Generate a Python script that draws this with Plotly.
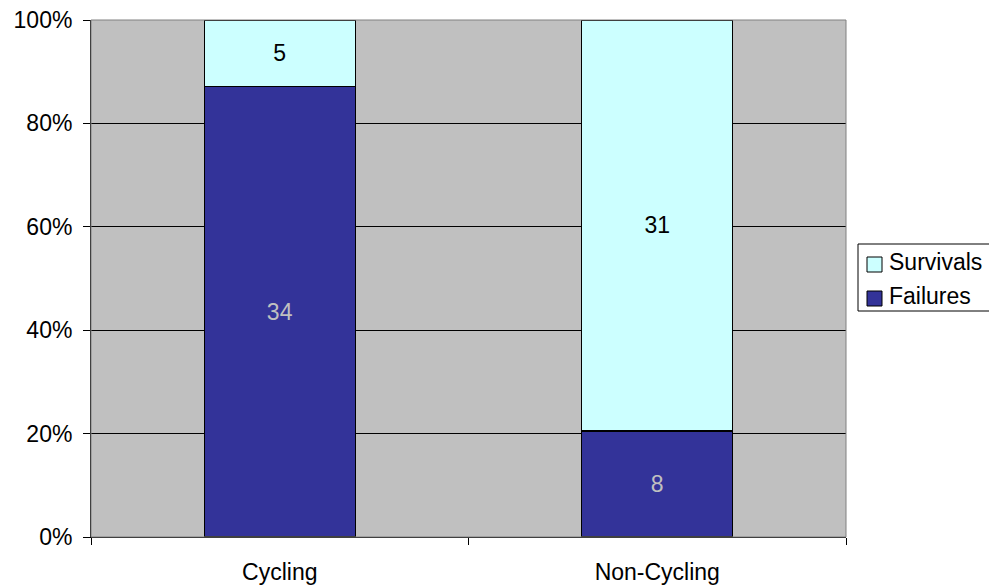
import plotly.graph_objects as go

categories = ["Cycling", "Non-Cycling"]
failures = [34, 8]
survivals = [5, 31]
series_names = ["Survivals", "Failures"]
series_colors = ["#ccffff", "#333399"]

FONT = "Liberation Sans, Arial, sans-serif"
FS = 23

fig = go.Figure()
fig.add_trace(go.Bar(
    name="Failures", x=categories, y=failures,
    text=[str(v) for v in failures], textposition="inside", insidetextanchor="middle",
    textfont=dict(color="#c0c0c0", size=FS, family=FONT),
    marker=dict(color="#333399", line=dict(color="#000000", width=1.2)),
    width=0.4, hoverinfo="skip",
))
fig.add_trace(go.Bar(
    name="Survivals", x=categories, y=survivals,
    text=[str(v) for v in survivals], textposition="inside", insidetextanchor="middle",
    textfont=dict(color="#000000", size=FS, family=FONT),
    marker=dict(color="#ccffff", line=dict(color="#000000", width=1.2)),
    width=0.4, hoverinfo="skip",
))

L, R, T, B = 91, 143, 20, 51
W, H = 989, 588
PW, PH = W - L - R, H - T - B

def px(x):
    return (x - L) / PW

def py(y):
    return (H - B - y) / PH

fig.update_layout(
    barmode="stack", barnorm="percent",
    width=W, height=H,
    margin=dict(l=L, r=R, t=T, b=B, autoexpand=False),
    paper_bgcolor="#ffffff", plot_bgcolor="#c0c0c0",
    font=dict(family=FONT, size=FS, color="#000000"),
    showlegend=False,
    uniformtext=dict(mode=False),
)
fig.update_yaxes(
    range=[0, 100], dtick=20, ticksuffix="%",
    showgrid=True, gridcolor="#000000", gridwidth=1,
    ticks="outside", ticklen=7, tickcolor="#000000",
    showline=True, linecolor="#000000", linewidth=1,
    zeroline=False, fixedrange=True, ticklabelstandoff=6,
)
fig.update_xaxes(
    tickson="boundaries", ticks="outside", ticklen=7, tickcolor="#000000",
    showline=True, linecolor="#000000", linewidth=1,
    showgrid=False, fixedrange=True, ticklabelstandoff=14,
)
fig.add_shape(type="rect", xref="paper", yref="paper", x0=0, x1=1, y0=0, y1=1,
              line=dict(color="#808080", width=1), layer="above")

# legend box (extends to the right edge of the picture, as in the reference)
fig.add_shape(type="rect", xref="paper", yref="paper",
              x0=px(858), x1=px(995), y0=py(311), y1=py(244),
              line=dict(color="#000000", width=1), fillcolor="#ffffff")
for i, (name, col) in enumerate(zip(series_names, series_colors)):
    ty = 262 + 34 * i
    sy = 264.5 + 34 * i
    fig.add_shape(type="rect", xref="paper", yref="paper",
                  x0=px(867), x1=px(882), y0=py(sy + 7.5), y1=py(sy - 7.5),
                  line=dict(color="#000000", width=1), fillcolor=col)
    fig.add_annotation(xref="paper", yref="paper", x=px(887), y=py(ty),
                       xanchor="left", yanchor="middle", text=name, showarrow=False,
                       font=dict(family=FONT, size=FS, color="#000000"))

fig.write_html("out.html")
